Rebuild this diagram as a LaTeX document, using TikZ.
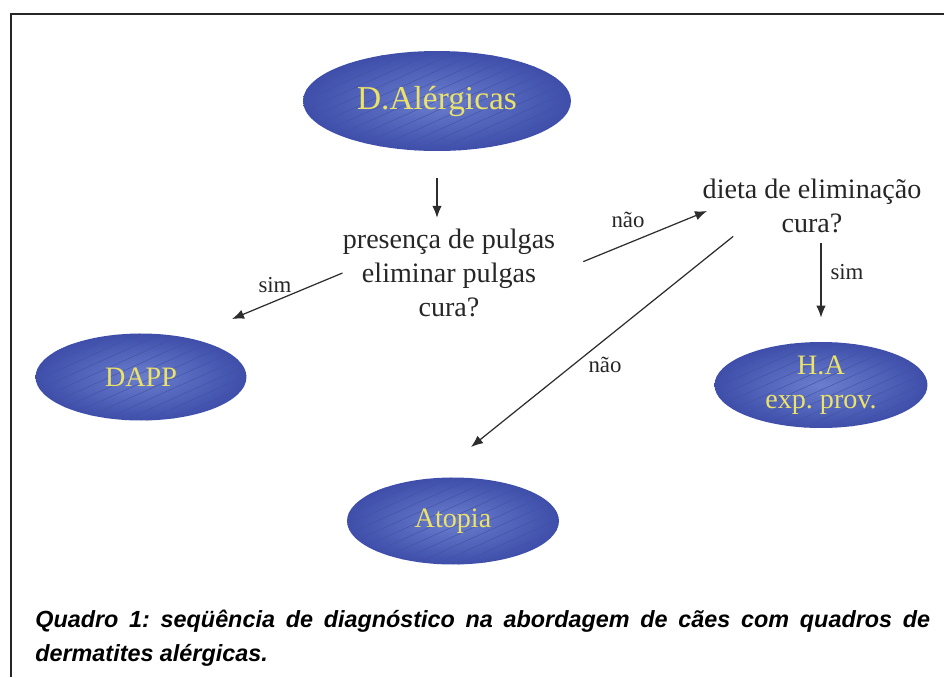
\documentclass[tikz,border=0pt]{standalone}
\usepackage{fontspec}
\setmainfont{Liberation Serif}
\newfontfamily\captionfont{Liberation Sans}
\usepackage{tikz}
\usetikzlibrary{positioning, shapes.geometric, arrows.meta}

\definecolor{ellipseblue}{RGB}{62,78,170}
\definecolor{ellipselight}{RGB}{106,126,206}
\definecolor{hatchblue}{RGB}{66,82,162}
\definecolor{textyellow}{RGB}{236,226,104}
\definecolor{arrowgray}{RGB}{45,45,45}

\begin{document}
\frenchspacing
\hyphenpenalty=10000
\begin{tikzpicture}[x=0.02cm,y=-0.02cm,
        >={Latex[length=2.4mm,width=1.9mm]},
        every edge/.style={draw=arrowgray,line width=0.7pt},
        diagnose/.style={ellipse,inner sep=0pt,inner color=ellipselight,outer color=ellipseblue,
            text=textyellow,align=center,font=\fontsize{16}{19.3}\selectfont,
            path picture={\foreach \k in {-13,...,10}
                \draw[hatchblue,line width=0.25pt] ([yshift=\k*2mm]path picture bounding box.south west) -- ++(6cm,2.7cm);}},
        question/.style={align=center,inner sep=0pt,text=black!85,font=\fontsize{16}{19.3}\selectfont},
        answer/.style={inner sep=0pt,text=black!85,font=\fontsize{13}{15}\selectfont}]
        \useasboundingbox (0,0) rectangle (944,677);

        % moldura
        \draw[line width=1.7pt,black!85] (11,677) -- (11,14) -- (944,14);

        \node[diagnose,minimum width=5.36cm,minimum height=2cm,font=\fontsize{19}{22}\selectfont] (DA) at (437,101) {D.Alérgicas};
        \node[question] (pulgas) at (449,273) {presença de pulgas\\eliminar pulgas\\cura?};
        \node[question] (dieta)  at (812,206) {dieta de eliminação\\cura?};
        \node[diagnose,minimum width=4.22cm,minimum height=1.74cm] (DAPP)   at (141,377) {DAPP};
        \node[diagnose,minimum width=4.26cm,minimum height=1.72cm] (HA)     at (821,385) {H.A\\exp. prov.};
        \node[diagnose,minimum width=4.24cm,minimum height=1.74cm] (atopia) at (453,521) {Atopia};

        \node[answer] (sim1) at (275,285) {sim};
        \node[answer] (nao1) at (628,220) {não};
        \node[answer] (nao2) at (605,365) {não};
        \node[answer] (sim2) at (847,272) {sim};

        \coordinate (DAPPtip)   at (232,319);
        \coordinate (dietatip)  at (707,211);
        \coordinate (atopiatip) at (471,447);

        \path[->] (DA.south) edge [shorten <=0.54cm, shorten >=0.22cm] (DA.south |- pulgas.north)
                  (pulgas.west) edge [] (DAPPtip)
                  (pulgas.east) edge [shorten <=0.6cm] (dietatip)
                  (dieta.-160) edge [shorten <=0.1cm] (atopiatip)
                  (HA.north |- dieta.south) edge [shorten <=0.2cm, shorten >=0.48cm] (HA.north);

        \node[anchor=north west,inner sep=0pt,text width=17.9cm,align=justify,
            font=\captionfont\bfseries\itshape\fontsize{13.3}{19}\selectfont] (legenda) at (35,610)
            {Quadro 1: seqüência de diagnóstico na abordagem de cães com quadros de dermatites alérgicas.};
    \end{tikzpicture}
\end{document}
